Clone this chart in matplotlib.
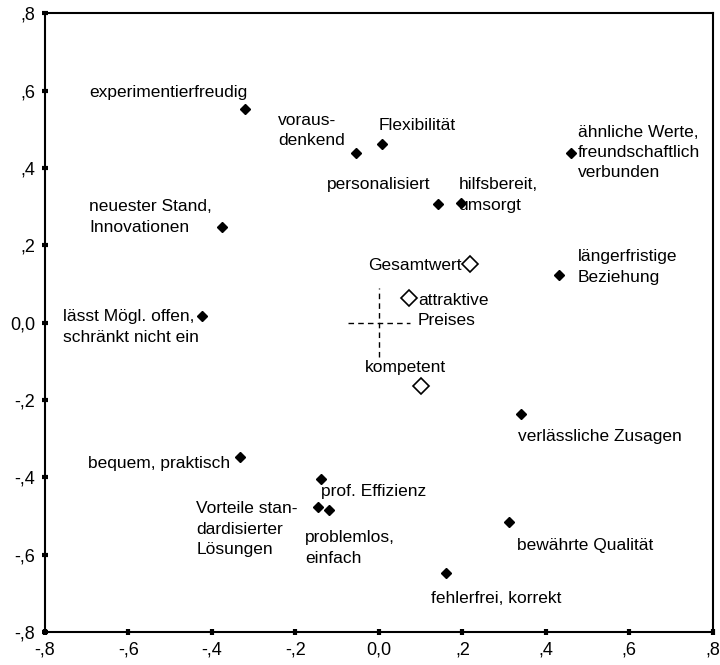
import matplotlib.pyplot as plt

plt.rcParams["font.family"] = ["Liberation Sans", "DejaVu Sans"]

# attribute positions (filled diamonds)
attr_labels = [
    "experimentierfreudig", "voraus-\ndenkend", "Flexibilität",
    "ähnliche Werte,\nfreundschaftlich\nverbunden", "personalisiert",
    "hilfsbereit,\numsorgt", "neuester Stand,\nInnovationen",
    "längerfristige\nBeziehung", "lässt Mögl. offen,\nschränkt nicht ein",
    "verlässliche Zusagen", "bequem, praktisch", "prof. Effizienz",
    "Vorteile stan-\ndardisierter\nLösungen", "problemlos,\neinfach",
    "bewährte Qualität", "fehlerfrei, korrekt",
]
attr_x = [-0.321, -0.055, 0.007, 0.460, 0.141, 0.196, -0.376, 0.431, -0.424,
          0.340, -0.333, -0.139, -0.146, -0.120, 0.311, 0.160]
attr_y = [0.552, 0.440, 0.461, 0.440, 0.306, 0.309, 0.247, 0.123, 0.017,
          -0.236, -0.348, -0.404, -0.477, -0.484, -0.515, -0.647]

# overall judgements (open diamonds)
judge_labels = ["Gesamtwert", "attraktive\nPreises", "kompetent"]
judge_x = [0.218, 0.072, 0.100]
judge_y = [0.151, 0.063, -0.164]

ticks = [-0.8, -0.6, -0.4, -0.2, 0.0, 0.2, 0.4, 0.6, 0.8]
tick_text = ["-,8", "-,6", "-,4", "-,2", "0,0", ",2", ",4", ",6", ",8"]

# label placement: (dx px, dy px, ha)
attr_offsets = [
    (3, 17, "right"), (-11, 22, "right"), (-3, 19, "left"), (7, 0, "left"),
    (-7, 20, "right"), (-2, 8, "left"), (-10, 10, "right"), (19, 8, "left"),
    (-3, -11, "right"), (-3, -23, "left"), (-10, -6, "right"), (0, -13, "left"),
    (-20, -22, "right"), (-24, -38, "left"), (8, -24, "left"), (-15, -26, "left"),
]
judge_offsets = [(-8, -1, "right"), (9, -12, "left"), (-56, 19, "left")]

fig = plt.figure(figsize=(7.2, 6.65), dpi=100)
ax = fig.add_axes([0.0625, 0.0496, 0.9275, 0.9304])

ax.plot(attr_x, attr_y, "D", color="black", markersize=5, linestyle="none")
ax.plot(judge_x, judge_y, "D", markerfacecolor="white", markeredgecolor="black",
        markersize=8, markeredgewidth=1.2, linestyle="none")

for lab, x, y, (dx, dy, ha) in zip(attr_labels, attr_x, attr_y, attr_offsets):
    ax.annotate(lab, (x, y), xytext=(dx, dy), textcoords="offset pixels",
                ha=ha, va="center", multialignment="left", fontsize=12.5,
                linespacing=1.45)
for lab, x, y, (dx, dy, ha) in zip(judge_labels, judge_x, judge_y, judge_offsets):
    ax.annotate(lab, (x, y), xytext=(dx, dy), textcoords="offset pixels",
                ha=ha, va="center", multialignment="left", fontsize=12.5,
                linespacing=1.45)

# origin cross
ax.plot([-0.075, 0.075], [0, 0], color="black", linestyle=(0, (4, 3)), linewidth=1)
ax.plot([0, 0], [-0.09, 0.09], color="black", linestyle=(0, (4, 3)), linewidth=1)

ax.set_xlim(-0.8, 0.8)
ax.set_ylim(-0.8, 0.8)
ax.set_xticks(ticks)
ax.set_xticklabels(tick_text)
ax.set_yticks(ticks)
ax.set_yticklabels(tick_text)
ax.tick_params(direction="inout", length=4, width=3, labelsize=13, pad=5)
for sp in ax.spines.values():
    sp.set_linewidth(1.5)

fig.savefig("out.png", dpi=100)
